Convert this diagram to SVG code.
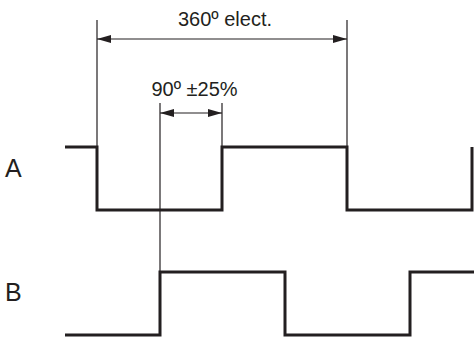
<svg xmlns="http://www.w3.org/2000/svg" width="474" height="340" viewBox="0 0 474 340">
<style>
.sig{fill:none;stroke:#231f20;stroke-width:3;stroke-linejoin:miter;stroke-linecap:butt}
.thin{fill:none;stroke:#231f20;stroke-width:1.2}
.dim{fill:none;stroke:#231f20;stroke-width:1.2;marker-start:url(#ah);marker-end:url(#ah)}
.lbl{font-family:"Liberation Sans",Arial,sans-serif;fill:#231f20}
</style>
<defs>
<marker id="ah" viewBox="0 0 14 8" refX="14" refY="4" markerWidth="14" markerHeight="8" markerUnits="userSpaceOnUse" orient="auto-start-reverse">
<path d="M0,0 L14,4 L0,8 Z" fill="#231f20"/>
</marker>
</defs>
<rect width="474" height="340" fill="#ffffff"/>
<g id="signalA">
<path class="sig" d="M65,147 H97 V210 H222 V147 H347 V210 H472 V147"/>
<text class="lbl" x="5" y="177" font-size="25">A</text>
</g>
<g id="signalB">
<path class="sig" d="M65,335 H160 V272 H285 V335 H410 V272 H474"/>
<text class="lbl" x="5" y="301" font-size="25">B</text>
</g>
<g id="connectors">
<line class="thin" x1="97" y1="20" x2="97" y2="147"/>
<line class="thin" x1="347" y1="20" x2="347" y2="147"/>
<line class="thin" x1="160" y1="103" x2="160" y2="272"/>
<line class="thin" x1="222" y1="103" x2="222" y2="147"/>
<line class="dim" x1="97" y1="39" x2="347" y2="39"/>
<line class="dim" x1="160" y1="113" x2="222" y2="113"/>
</g>
<g id="labels">
<text class="lbl" x="225" y="26" font-size="20" text-anchor="middle">360º elect.</text>
<text class="lbl" x="194.5" y="96" font-size="20" text-anchor="middle">90º ±25%</text>
</g>
</svg>
